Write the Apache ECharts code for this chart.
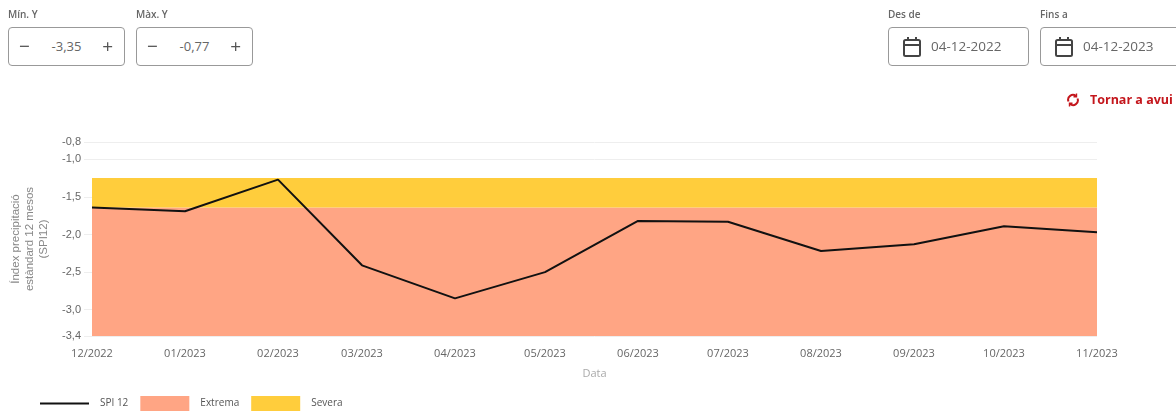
<!DOCTYPE html>
<html>
<head>
<meta charset="utf-8">
<script src="https://cdn.jsdelivr.net/npm/echarts@6/dist/echarts.min.js"></script>
<style>
    html, body { margin: 0; padding: 0; background: #fff; overflow: hidden; }
    body { width: 1176px; height: 412px; position: relative; font-family: "Open Sans", sans-serif; color: #555; }
    #chart { position: absolute; left: 0; top: 0; width: 1176px; height: 412px; }
    .lbl { position: absolute; top: 7px; font-size: 10px; font-weight: 600; color: #666; }
    .box { position: absolute; top: 27px; height: 37px; border: 1.5px solid #999; border-radius: 4px; background: #fff;
           font-size: 13px; line-height: 37px; color: #666; box-sizing: content-box; }
    .stepper { width: 115px; text-align: center; }
    .stepper .m, .stepper .p { position: absolute; top: 0; font-size: 19px; color: #555; }
    .stepper .m { left: 10px; }
    .stepper .p { right: 11px; }
    .date { width: 139px; font-size: 13.5px; }
    .date svg { position: absolute; left: 13px; top: 8px; }
    .date span { position: absolute; left: 42px; }
    #today { position: absolute; left: 1066px; top: 91px; font-size: 12.5px; font-weight: 700; color: #c4161c; white-space: nowrap; }
    #today svg { vertical-align: -3px; margin-right: 10px; }
</style>
</head>
<body>
<div id="chart"></div>

<div class="lbl" style="left:8px">Mín. Y</div>
<div class="box stepper" style="left:8px"><span class="m">−</span>-3,35<span class="p">+</span></div>
<div class="lbl" style="left:136px">Màx. Y</div>
<div class="box stepper" style="left:136px"><span class="m">−</span>-0,77<span class="p">+</span></div>

<div class="lbl" style="left:888px">Des de</div>
<div class="box date" style="left:888px">
    <svg width="20" height="22" viewBox="0 0 20 22" fill="none" stroke="#444" stroke-width="2"><rect x="2" y="4" width="16" height="16" rx="1.5"/><path d="M2 9h16M6 1v4M14 1v4"/></svg>
    <span>04-12-2022</span>
</div>
<div class="lbl" style="left:1040px">Fins a</div>
<div class="box date" style="left:1040px">
    <svg width="20" height="22" viewBox="0 0 20 22" fill="none" stroke="#444" stroke-width="2"><rect x="2" y="4" width="16" height="16" rx="1.5"/><path d="M2 9h16M6 1v4M14 1v4"/></svg>
    <span>04-12-2023</span>
</div>

<div id="today"><svg width="14" height="14" viewBox="0 0 14 14" fill="none" stroke="#c4161c" stroke-width="2"><path d="M2.5 8.5A4.8 4.8 0 0 1 10 3M11.5 5.5A4.8 4.8 0 0 1 4 11"/><path d="M10.5 0.5v3.2h-3M3.5 13.5v-3.2h3" stroke-width="1.4"/></svg>Tornar a avui</div>

<script>
    var months = ['2022-12-01', '2023-01-01', '2023-02-01', '2023-03-01', '2023-04-01', '2023-05-01',
                  '2023-06-01', '2023-07-01', '2023-08-01', '2023-09-01', '2023-10-01', '2023-11-01'];
    var spi12 = [-1.64, -1.69, -1.27, -2.41, -2.85, -2.50, -1.82, -1.83, -2.22, -2.13, -1.89, -1.97];
    var yTicks = [-3.35, -3, -2.5, -2, -1.5, -1, -0.77];
    var yMin = -3.35;
    var yMax = -0.77;
    var extremaBand = [-3.35, -1.64];
    var severaBand = [-1.64, -1.25];

    var monthTicks = months.map(function (m) { return new Date(m + 'T00:00:00').getTime(); });

    function monthLabel(value) {
        var d = new Date(value);
        var mm = d.getMonth() + 1;
        return (mm < 10 ? '0' + mm : mm) + '/' + d.getFullYear();
    }

    function bandSeries(name, color, band) {
        return {
            name: name,
            type: 'line',
            data: [],
            symbol: 'none',
            z: 1,
            itemStyle: { color: color },
            lineStyle: { color: color },
            markArea: {
                silent: true,
                itemStyle: { color: color, opacity: 1 },
                data: [[{ yAxis: band[0] }, { yAxis: band[1] }]]
            }
        };
    }

    var myChart = echarts.init(document.getElementById('chart'));

    myChart.setOption({
        animation: false,
        textStyle: { fontFamily: '"Liberation Sans", sans-serif' },
        grid: { left: 92, right: 79, top: 142, bottom: 76, outerBoundsMode: 'none' },
        xAxis: {
            type: 'time',
            min: monthTicks[0],
            max: monthTicks[monthTicks.length - 1],
            splitNumber: 11,
            name: 'Data',
            nameLocation: 'middle',
            nameGap: 32,
            nameTextStyle: { color: '#aaa', fontSize: 11, fontFamily: '"Open Sans", sans-serif' },
            axisLine: { show: false },
            axisTick: { show: false },
            splitLine: { show: false },
            axisLabel: {
                color: '#666',
                fontSize: 11,
                margin: 12,
                showMinLabel: true,
                showMaxLabel: true,
                hideOverlap: false,
                fontFamily: '"Open Sans", sans-serif',
                formatter: monthLabel
            }
        },
        yAxis: {
            type: 'value',
            min: yMin,
            max: yMax,
            name: 'Índex precipitació\nestàndard 12 mesos\n(SPI12)',
            nameLocation: 'middle',
            nameGap: 36,
            nameTextStyle: { color: '#888', fontSize: 11.5, lineHeight: 14 },
            axisLine: { show: false },
            axisTick: { show: true, customValues: yTicks, length: 8, lineStyle: { color: '#eee' } },
            splitLine: { show: true, lineStyle: { color: '#eee' } },
            axisLabel: {
                customValues: yTicks,
                color: '#666',
                fontSize: 11,
                margin: 11,
                formatter: function (v) { return v.toFixed(1).replace('.', ','); }
            }
        },
        legend: {
            left: 34,
            top: 391,
            itemWidth: 49,
            itemHeight: 15,
            itemGap: 12,
            selectedMode: false,
            textStyle: { color: '#555', fontSize: 10, fontFamily: '"Open Sans", sans-serif', padding: [0, 0, 0, 6] },
            data: [
                { name: 'SPI 12', itemStyle: { opacity: 0 } },
                { name: 'Extrema', icon: 'rect' },
                { name: 'Severa', icon: 'rect' }
            ]
        },
        series: [
            {
                name: 'SPI 12',
                type: 'line',
                z: 5,
                symbol: 'none',
                itemStyle: { color: '#111' },
                lineStyle: { color: '#111', width: 2 },
                data: monthTicks.map(function (t, i) { return [t, spi12[i]]; })
            },
            bandSeries('Extrema', '#ffa584', extremaBand),
            bandSeries('Severa', '#ffcd3c', severaBand)
        ]
    });
</script>
</body>
</html>
